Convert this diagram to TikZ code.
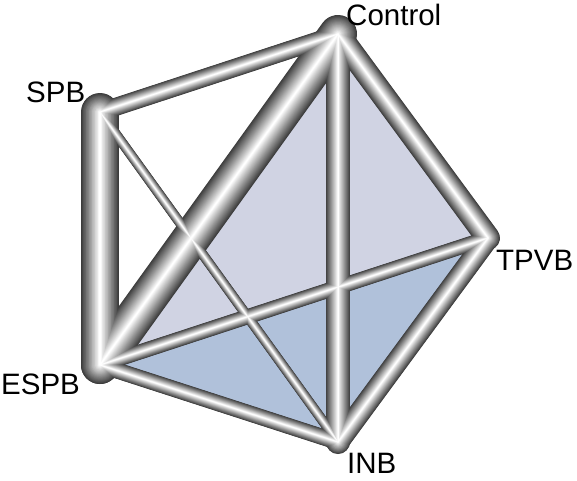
\documentclass[tikz,border=0pt]{standalone}
\usepackage{fontspec}
\setmainfont{Liberation Sans}
\definecolor{tubedark}{RGB}{60,60,60}
\definecolor{upperface}{RGB}{208,211,227}
\definecolor{lowerface}{RGB}{176,193,218}
\begin{document}
\begin{tikzpicture}[x=1pt,y=-1pt,
  lbl/.style={inner sep=0pt,anchor=base west,font=\fontsize{29.5}{32}\selectfont},
  tubelayer/.style={line cap=round,line join=round}]
\useasboundingbox (0,0) rectangle (577,480);
% treatment positions
\coordinate (C) at (338,34);
\coordinate (S) at (100,112);
\coordinate (E) at (100,365);
\coordinate (I) at (338,442);
\coordinate (T) at (488,238);
% closed loops
\fill[upperface] (C) -- (E) -- (T) -- cycle;
\fill[lowerface] (E) -- (T) -- (I) -- cycle;
% shaded tubes: every layer of all edges is drawn before the next, lighter one
\foreach \i in {0,...,24}{
  \pgfmathsetmacro\f{1-\i/25}
  \pgfmathsetmacro\p{100*\i/24}
  \foreach \a/\b/\w in {S/E/38, E/C/38, C/I/24, C/T/24, I/T/22, S/C/18, E/I/16, E/T/15, S/I/10}{
    \pgfmathsetmacro\lw{\w*\f}
    \draw[tubelayer, line width=\lw pt, color=white!\p!tubedark] (\a) -- (\b);
  }
}
% labels
\node[lbl] (lC) at (346,25) {Control};
\node[lbl] (lS) at (26,102) {SPB};
\node[lbl] (lE) at (1,394) {ESPB};
\node[lbl] (lI) at (347,473) {INB};
\node[lbl] (lT) at (496,270) {TPVB};
\end{tikzpicture}
\end{document}
